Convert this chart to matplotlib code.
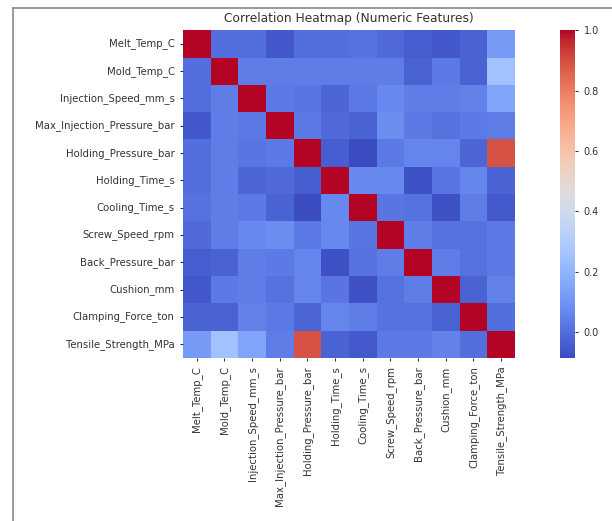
import numpy as np
import pandas as pd
import matplotlib
matplotlib.use("Agg")
import matplotlib.pyplot as plt
import seaborn as sns

# feature names (row/column order of the heatmap)
features = ["Melt_Temp_C", "Mold_Temp_C", "Injection_Speed_mm_s",
            "Max_Injection_Pressure_bar", "Holding_Pressure_bar", "Holding_Time_s",
            "Cooling_Time_s", "Screw_Speed_rpm", "Back_Pressure_bar", "Cushion_mm",
            "Clamping_Force_ton", "Tensile_Strength_MPa"]

# upper triangle of the correlation matrix (row by row)
upper = [
    [0.00, 0.00, -0.06, 0.00, 0.00, 0.01, -0.01, -0.04, -0.06, -0.03, 0.12],
    [0.04, 0.04, 0.04, 0.04, 0.04, 0.04, -0.03, 0.03, -0.03, 0.25],
    [0.03, 0.02, -0.02, 0.03, 0.07, 0.04, 0.04, 0.05, 0.15],
    [0.03, -0.01, -0.03, 0.08, 0.03, 0.01, 0.03, 0.04],
    [-0.04, -0.086, 0.03, 0.06, 0.06, -0.02, 0.89],
    [0.07, 0.07, -0.07, 0.02, 0.06, -0.03],
    [0.02, 0.01, -0.07, 0.04, -0.05],
    [0.04, 0.01, 0.01, 0.03],
    [0.04, 0.01, 0.03],
    [-0.03, 0.05],
    [0.00],
]

n = len(features)
corr = np.eye(n)
for i, row in enumerate(upper):
    for k, v in enumerate(row):
        j = i + 1 + k
        corr[i, j] = v
        corr[j, i] = v
corr = pd.DataFrame(corr, index=features, columns=features)

fig = plt.figure(figsize=(6.12, 5.21), dpi=100)
ax = fig.add_axes([0.299, 0.313, 0.5425, 0.629])
cax = fig.add_axes([0.915, 0.313, 0.025, 0.629])

sns.heatmap(corr, cmap="coolwarm", ax=ax, cbar_ax=cax, square=False)
ax.set_title("Correlation Heatmap (Numeric Features)", fontsize=8.8, color="#333333")
ax.tick_params(labelsize=7.3, length=2.5, colors="#333333")
ax.set_xticklabels(features, rotation=90)
ax.set_yticklabels(features, rotation=0)
cax.tick_params(labelsize=7, length=2.5, colors="#333333")
cax.set_yticks([0.0, 0.2, 0.4, 0.6, 0.8, 1.0])

# screenshot frame
fig.add_artist(plt.Line2D([0.021, 0.021], [0.0, 0.985], color="#888888", lw=1.2))
fig.add_artist(plt.Line2D([0.021, 1.0], [0.985, 0.985], color="#888888", lw=1.2))

fig.savefig("out.png", dpi=100)
